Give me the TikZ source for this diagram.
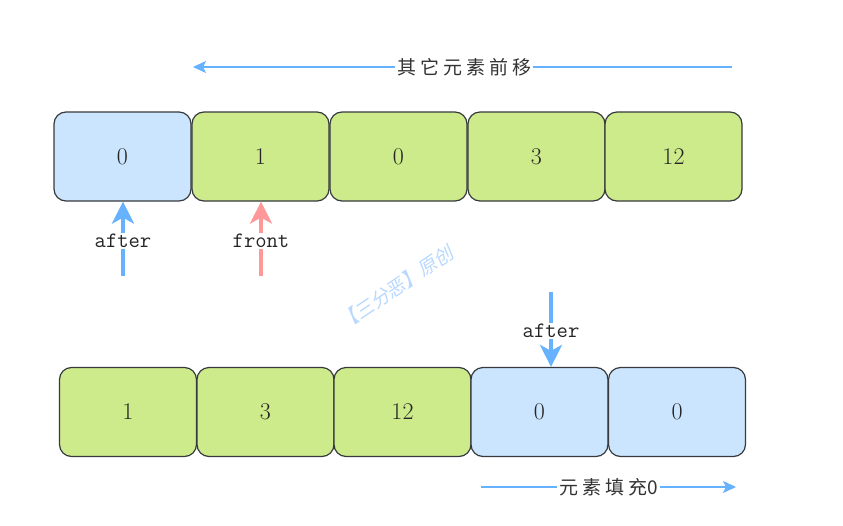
\documentclass[tikz,border=0pt]{standalone}
\usepackage{fontspec}
\newfontfamily\cjk{Noto Sans CJK SC}
\usetikzlibrary{arrows.meta}
\definecolor{bluefill}{HTML}{CCE5FF}
\definecolor{greenfill}{HTML}{CDEB8B}
\definecolor{boxline}{HTML}{36393D}
\definecolor{arrblue}{HTML}{66B2FF}
\definecolor{arrpink}{HTML}{FF9999}
\definecolor{wmark}{HTML}{B8D8FF}
\newcommand{\gp}{\hspace{4pt}}
\tikzset{
  cell/.style={draw=boxline, line width=1.2pt, rounded corners=12pt, minimum width=137pt, minimum height=89pt, inner sep=0pt, font=\fontsize{24}{28}\selectfont, text=black!85},
  bcell/.style={cell, fill=bluefill},
  gcell/.style={cell, fill=greenfill},
  ptr/.style={line width=4pt, -{Stealth[length=22pt,width=22pt,inset=6pt]}},
  ptrlabel/.style={fill=white, inner sep=1pt, text=black!85, font=\ttfamily\fontsize{22}{24}\selectfont},
  mv/.style={arrblue, line width=1.2pt, -{Stealth[length=13pt,width=12pt,inset=3pt]}},
  mvlabel/.style={fill=white, inner sep=2pt, font=\cjk\fontsize{19}{22}\selectfont, text=black!80},
}
\begin{document}
\begin{tikzpicture}[x=1pt,y=-1pt]
\useasboundingbox (0,0) rectangle (843,525);
% top row
\node[bcell] (t1) at (122.5,156.5) {0};
\node[gcell] (t2) at (260.5,156.5) {1};
\node[gcell] (t3) at (398.5,156.5) {0};
\node[gcell] (t4) at (536.5,156.5) {3};
\node[gcell] (t5) at (673.5,156.5) {12};
% bottom row
\node[gcell] (b1) at (128,412) {1};
\node[gcell] (b2) at (265.5,412) {3};
\node[gcell] (b3) at (402.5,412) {12};
\node[bcell] (b4) at (539.5,412) {0};
\node[bcell] (b5) at (677,412) {0};
% top move arrow
\coordinate (ms) at (732,67);
\coordinate (me) at (193,67);
\draw[mv] (ms) -- (me) node[mvlabel, pos=0.497] (mtxt) {其\gp 它\gp 元\gp 素\gp 前\gp 移};
% bottom fill arrow
\coordinate (fs) at (481,487);
\coordinate (fe) at (736,487);
\draw[mv] (fs) -- (fe) node[mvlabel, pos=0.5] (ftxt) {元\gp 素\gp 填\gp 充0};
% pointers
\coordinate (a1s) at (123,276);
\draw[ptr, arrblue] (a1s) -- (t1.south -| a1s) node[ptrlabel, pos=0.47] (a1txt) {after};
\coordinate (f1s) at (261,276);
\draw[ptr, arrpink] (f1s) -- (t2.south -| f1s) node[ptrlabel, pos=0.47] (f1txt) {front};
\coordinate (a2s) at (551,292);
\draw[ptr, arrblue] (a2s) -- (b4.north -| a2s) node[ptrlabel, pos=0.52] (a2txt) {after};
% watermark
\node[rotate=34, text=wmark, font=\cjk\fontsize{19}{21}\selectfont, xslant=0.2] (wm) at (397,287) {【三分恶】原创};
\end{tikzpicture}
\end{document}
